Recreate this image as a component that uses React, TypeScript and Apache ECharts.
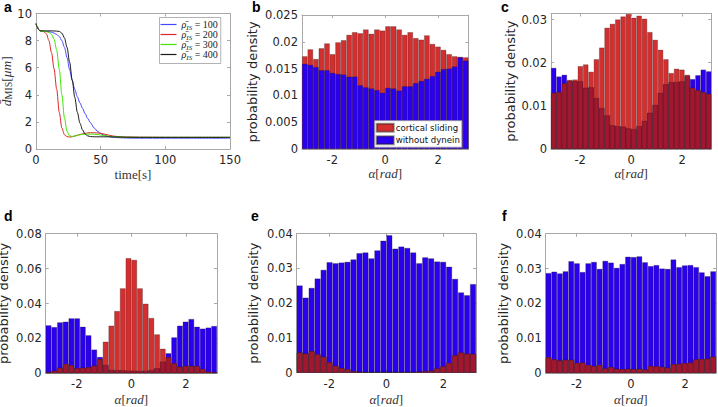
import React, { useEffect, useRef } from 'react';
import * as echarts from 'echarts';

// ---------- panel a: mean distance vs time ----------
const TIME = [0, 1, 2, 3, 4, 6, 8, 10, 12, 14, 16, 18, 20, 22, 24, 26, 28, 30, 32, 34, 36, 38, 40, 42, 45, 48, 52, 56, 60, 65, 70, 80, 100, 120, 150];
const RHO_100 = [9.25, 9.0, 8.82, 8.72, 8.7, 8.68, 8.67, 8.65, 8.62, 8.55, 8.45, 8.3, 8.0, 7.5, 6.75, 5.85, 5.05, 4.4, 3.85, 3.4, 3.0, 2.6, 2.25, 1.95, 1.55, 1.27, 1.05, 0.92, 0.86, 0.83, 0.81, 0.8, 0.8, 0.8, 0.8];
const RHO_200 = [9.25, 9.0, 8.82, 8.72, 8.7, 8.66, 8.5, 8.0, 7.1, 5.9, 4.4, 2.7, 1.55, 1.05, 0.92, 0.88, 0.9, 0.96, 1.02, 1.07, 1.12, 1.16, 1.19, 1.2, 1.2, 1.18, 1.12, 1.03, 0.95, 0.9, 0.88, 0.87, 0.86, 0.86, 0.86];
const RHO_300 = [9.25, 9.0, 8.82, 8.72, 8.7, 8.68, 8.66, 8.6, 8.45, 8.1, 7.3, 5.9, 4.0, 2.3, 1.3, 0.97, 0.93, 0.95, 1.0, 1.05, 1.08, 1.1, 1.1, 1.1, 1.09, 1.06, 1.0, 0.95, 0.91, 0.88, 0.87, 0.86, 0.86, 0.86, 0.86];
const RHO_400 = [9.25, 9.0, 8.82, 8.74, 8.72, 8.72, 8.72, 8.72, 8.72, 8.71, 8.7, 8.68, 8.55, 8.2, 7.5, 6.4, 5.1, 3.8, 2.7, 1.9, 1.4, 1.1, 0.97, 0.92, 0.9, 0.9, 0.9, 0.9, 0.89, 0.88, 0.87, 0.86, 0.86, 0.86, 0.86];
const RHO_LABELS = ['100', '200', '300', '400'];
const TIME_TICKS = [0, 50, 100, 150];
const DIST_TICKS = [0, 2, 4, 6, 8, 10];

// ---------- histograms (30 bins over [-pi, pi]) ----------
const B_SLIDING = [0.0173, 0.0186, 0.0168, 0.0188, 0.0197, 0.0177, 0.0199, 0.0203, 0.0213, 0.0218, 0.0216, 0.0223, 0.0215, 0.0223, 0.0221, 0.0229, 0.0229, 0.0223, 0.0213, 0.0218, 0.0207, 0.0204, 0.0212, 0.0196, 0.0191, 0.0185, 0.0177, 0.0173, 0.0172, 0.0171];
const B_NODYNEIN = [0.0159, 0.0157, 0.0153, 0.0147, 0.0147, 0.0142, 0.014, 0.0139, 0.0135, 0.0135, 0.0119, 0.0115, 0.0113, 0.011, 0.0105, 0.0114, 0.0113, 0.0109, 0.0117, 0.0117, 0.0123, 0.0127, 0.0131, 0.0136, 0.0144, 0.0149, 0.015, 0.0154, 0.0171, 0.0165];
const C_SLIDING = [0.013, 0.0132, 0.0152, 0.016, 0.0161, 0.0192, 0.0196, 0.0179, 0.0208, 0.0235, 0.0281, 0.029, 0.03, 0.0307, 0.0313, 0.0304, 0.0309, 0.0302, 0.0271, 0.0253, 0.023, 0.0208, 0.0176, 0.0186, 0.0184, 0.0172, 0.0142, 0.0136, 0.0132, 0.0128];
const C_NODYNEIN = [0.0188, 0.0168, 0.0172, 0.0158, 0.0157, 0.0157, 0.0142, 0.0143, 0.0118, 0.0095, 0.0078, 0.0055, 0.0053, 0.0052, 0.0048, 0.0046, 0.0053, 0.0065, 0.0084, 0.0102, 0.013, 0.015, 0.0155, 0.0155, 0.0157, 0.0169, 0.0162, 0.0171, 0.0184, 0.018];
const D_SLIDING = [0.0006, 0.0015, 0.0032, 0.0053, 0.0046, 0.0029, 0.0032, 0.0034, 0.0044, 0.0082, 0.0181, 0.0273, 0.0357, 0.0487, 0.066, 0.065, 0.0487, 0.0399, 0.0317, 0.0223, 0.0141, 0.0092, 0.0057, 0.0038, 0.0042, 0.0042, 0.0042, 0.0025, 0.001, 0.0006];
const D_NODYNEIN = [0.0275, 0.0265, 0.0292, 0.0296, 0.0315, 0.0315, 0.0267, 0.0218, 0.0136, 0.0094, 0.0048, 0.002, 0.0018, 0.0018, 0.0015, 0.0015, 0.0014, 0.0015, 0.0018, 0.0029, 0.0067, 0.0115, 0.0206, 0.0273, 0.0296, 0.0311, 0.0267, 0.0256, 0.0262, 0.0271];
const E_SLIDING = [0.0058, 0.0055, 0.0062, 0.0053, 0.0046, 0.003, 0.002, 0.0013, 0.001, 0.0004, 0.0003, 0.0002, 0.0002, 0.0002, 0.0002, 0.0002, 0.0002, 0.0002, 0.0002, 0.0002, 0.0003, 0.0004, 0.0006, 0.0012, 0.0018, 0.0028, 0.005, 0.0058, 0.0055, 0.0054];
const E_NODYNEIN = [0.0251, 0.0216, 0.0244, 0.0271, 0.0296, 0.0318, 0.0315, 0.0317, 0.0319, 0.0326, 0.0344, 0.0346, 0.0329, 0.0352, 0.038, 0.0396, 0.0357, 0.0363, 0.0359, 0.0346, 0.0315, 0.0332, 0.0329, 0.032, 0.0319, 0.0305, 0.027, 0.0231, 0.0223, 0.0255];
const F_SLIDING = [0.0045, 0.0039, 0.0036, 0.0038, 0.0038, 0.0029, 0.003, 0.0023, 0.002, 0.0023, 0.0013, 0.0017, 0.0012, 0.0011, 0.0012, 0.0011, 0.0012, 0.001, 0.002, 0.0019, 0.0018, 0.0015, 0.0025, 0.0026, 0.0028, 0.003, 0.0039, 0.004, 0.0041, 0.0047];
const F_NODYNEIN = [0.0287, 0.0291, 0.0286, 0.0292, 0.0321, 0.0315, 0.029, 0.0315, 0.0319, 0.0299, 0.0322, 0.0317, 0.0302, 0.0313, 0.0334, 0.0333, 0.0335, 0.0318, 0.0307, 0.031, 0.03, 0.0299, 0.0326, 0.0304, 0.0309, 0.031, 0.0304, 0.0289, 0.0278, 0.0292];
const ALPHA_TICKS = [-2, 0, 2];
const B_YTICKS = [0, 0.005, 0.01, 0.015, 0.02, 0.025];
const C_YTICKS = [0, 0.01, 0.02, 0.03];
const D_YTICKS = [0, 0.02, 0.04, 0.06, 0.08];
const EF_YTICKS = [0, 0.01, 0.02, 0.03, 0.04];
const SERIES_NAMES = ['cortical sliding', 'without dynein'];

const BIN_COUNT = 30;
const BIN_CENTERS = Array.from({ length: BIN_COUNT }, (_, i) => -Math.PI + ((i + 0.5) * 2 * Math.PI) / BIN_COUNT);

const RED = '#d32f2f';
const BLUE = '#2b00ee';
const DARK_RED = '#a0172f';
const EDGE = 'rgba(25,25,25,0.45)';
const AXIS_COLOR = '#a8a8a8';
const LABEL_COLOR = '#262626';
const SANS = 'DejaVu Sans';
const SERIF = 'Liberation Serif';
const LINE_COLORS = ['#4646ff', '#e02626', '#3ee600', '#1a1a1a'];

const fmt = (v: number) => String(+(+v).toFixed(4));

const axisLine = { show: true, onZero: false, lineStyle: { color: AXIS_COLOR, width: 1 } };
const tick = (vals: number[]) => ({ show: true, inside: true, length: 3, customValues: vals, lineStyle: { color: AXIS_COLOR, width: 1 } });
const label = (vals: number[], margin: number) => ({
  show: true, customValues: vals, margin, fontFamily: SANS, fontSize: 11.5, color: LABEL_COLOR, formatter: fmt,
});

const alphaName = {
  name: '{i|α}{n|[}{i|rad}{n|]}',
  nameLocation: 'middle',
  nameTextStyle: {
    fontFamily: SERIF, fontSize: 13, color: '#333',
    rich: {
      i: { fontFamily: SERIF, fontStyle: 'italic', fontSize: 13, color: '#333' },
      n: { fontFamily: SERIF, fontSize: 13, color: '#333' },
    },
  },
};

type Hist = {
  grid: { left: number; top: number; width: number; height: number };
  yMax: number;
  yTicks: number[];
  sliding: number[];
  noDynein: number[];
  blueOnTop: boolean;
  yNameGap: number;
  xNameGap: number;
};

const HISTS: Hist[] = [
  { grid: { left: 302, top: 15, width: 166.5, height: 134 }, yMax: 0.025, yTicks: B_YTICKS, sliding: B_SLIDING, noDynein: B_NODYNEIN, blueOnTop: true, yNameGap: 43.5, xNameGap: 18 },
  { grid: { left: 551, top: 13.5, width: 160.3, height: 135.5 }, yMax: 0.0314, yTicks: C_YTICKS, sliding: C_SLIDING, noDynein: C_NODYNEIN, blueOnTop: false, yNameGap: 34, xNameGap: 18 },
  { grid: { left: 45.7, top: 233.7, width: 171.3, height: 139.6 }, yMax: 0.08, yTicks: D_YTICKS, sliding: D_SLIDING, noDynein: D_NODYNEIN, blueOnTop: false, yNameGap: 35.5, xNameGap: 20 },
  { grid: { left: 296.7, top: 233.7, width: 179.3, height: 139 }, yMax: 0.04, yTicks: EF_YTICKS, sliding: E_SLIDING, noDynein: E_NODYNEIN, blueOnTop: false, yNameGap: 36.5, xNameGap: 20 },
  { grid: { left: 545.7, top: 233.7, width: 170.3, height: 139.3 }, yMax: 0.04, yTicks: EF_YTICKS, sliding: F_SLIDING, noDynein: F_NODYNEIN, blueOnTop: false, yNameGap: 35.5, xNameGap: 20 },
];

const LETTERS = [
  { t: 'a', x: 4, y: 6.5 },
  { t: 'b', x: 252, y: 6.5 },
  { t: 'c', x: 501, y: 6.5 },
  { t: 'd', x: 4, y: 215.5 },
  { t: 'e', x: 251, y: 215.5 },
  { t: 'f', x: 502, y: 215.5 },
];

function buildOption() {
  const grids: any[] = [];
  const xAxis: any[] = [];
  const yAxis: any[] = [];
  const series: any[] = [];

  // panel a
  grids.push({ left: 36, top: 13.5, width: 194, height: 135.5, outerBoundsMode: 'none' });
  xAxis.push({
    type: 'value', gridIndex: 0, min: 0, max: 150, position: 'bottom',
    axisLine, axisTick: tick(TIME_TICKS), axisLabel: label(TIME_TICKS, 5), splitLine: { show: false },
    name: '{n|time[s]}', nameLocation: 'middle', nameGap: 19,
    nameTextStyle: { fontFamily: SERIF, fontSize: 13, color: '#333', rich: { n: { fontFamily: SERIF, fontSize: 13, color: '#333' } } },
  });
  xAxis.push({
    type: 'value', gridIndex: 0, min: 0, max: 150, position: 'top',
    axisLine, axisTick: tick(TIME_TICKS), axisLabel: { show: false }, splitLine: { show: false },
  });
  yAxis.push({
    type: 'value', gridIndex: 0, min: 0, max: 10, position: 'left',
    axisLine, axisTick: tick(DIST_TICKS), axisLabel: label(DIST_TICKS, 4), splitLine: { show: false },
    name: '{d|d̄}{s|MIS}{n|[}{i|μm}{n|]}', nameLocation: 'middle', nameGap: 23, nameRotate: 90, nameMoveOverlap: false,
    nameTextStyle: {
      fontFamily: SERIF, fontSize: 13.5, color: '#333',
      rich: {
        d: { fontFamily: SERIF, fontStyle: 'italic', fontSize: 13.5, color: '#333', lineHeight: 12 },
        s: { fontFamily: SERIF, fontSize: 10, color: '#333', verticalAlign: 'bottom', lineHeight: 14 },
        n: { fontFamily: SERIF, fontSize: 13.5, color: '#333', lineHeight: 12 },
        i: { fontFamily: SERIF, fontStyle: 'italic', fontSize: 13.5, color: '#333', lineHeight: 12 },
      },
    },
  });
  yAxis.push({
    type: 'value', gridIndex: 0, min: 0, max: 10, position: 'right',
    axisLine, axisTick: tick(DIST_TICKS), axisLabel: { show: false }, splitLine: { show: false },
  });
  const rhoData = [RHO_100, RHO_200, RHO_300, RHO_400];
  rhoData.forEach((arr, k) => {
    series.push({
      type: 'line', name: 'rho' + RHO_LABELS[k], xAxisIndex: 0, yAxisIndex: 0,
      data: TIME.map((t, i) => [t, arr[i]]), showSymbol: false, smooth: 0.3, smoothMonotone: 'x',
      lineStyle: { color: LINE_COLORS[k], width: 1 }, itemStyle: { color: LINE_COLORS[k] },
      silent: true, z: 2,
    });
  });

  // histogram panels
  HISTS.forEach((h, p) => {
    const gi = p + 1;
    grids.push({ ...h.grid, outerBoundsMode: 'none' });
    xAxis.push({
      type: 'value', gridIndex: gi, min: -Math.PI, max: Math.PI, position: 'bottom',
      axisLine, axisTick: tick(ALPHA_TICKS), axisLabel: label(ALPHA_TICKS, 5), splitLine: { show: false },
      ...alphaName, nameGap: h.xNameGap,
    });
    xAxis.push({
      type: 'value', gridIndex: gi, min: -Math.PI, max: Math.PI, position: 'top',
      axisLine, axisTick: tick(ALPHA_TICKS), axisLabel: { show: false }, splitLine: { show: false },
    });
    yAxis.push({
      type: 'value', gridIndex: gi, min: 0, max: h.yMax, position: 'left',
      axisLine, axisTick: tick(h.yTicks), axisLabel: label(h.yTicks, 4), splitLine: { show: false },
      name: 'probability density', nameLocation: 'middle', nameRotate: 90, nameGap: h.yNameGap, nameMoveOverlap: false,
      nameTextStyle: { fontFamily: SANS, fontSize: 13, color: LABEL_COLOR },
    });
    yAxis.push({
      type: 'value', gridIndex: gi, min: 0, max: h.yMax, position: 'right',
      axisLine, axisTick: tick(h.yTicks), axisLabel: { show: false }, splitLine: { show: false },
    });
    const xi = gi * 2;
    const yi = gi * 2;
    const bar = (name: string, vals: number[], color: string) => ({
      type: 'bar', name, xAxisIndex: xi, yAxisIndex: yi,
      data: BIN_CENTERS.map((c, i) => [c, vals[i]]),
      barWidth: '100%', barGap: '-100%',
      itemStyle: { color, borderColor: EDGE, borderWidth: 0.6 },
      silent: true, emphasis: { disabled: true },
    });
    if (h.blueOnTop) {
      series.push(bar(SERIES_NAMES[0], h.sliding, RED));
      series.push(bar(SERIES_NAMES[1], h.noDynein, BLUE));
    } else {
      series.push(bar('nd' + p, h.noDynein, BLUE));
      series.push(bar('cs' + p, h.sliding, RED));
      series.push(bar('ov' + p, h.sliding.map((v, i) => Math.min(v, h.noDynein[i])), DARK_RED));
    }
  });

  return {
    animation: false,
    backgroundColor: '#ffffff',
    textStyle: { fontFamily: SANS },
    grid: grids,
    xAxis,
    yAxis,
    series,
    legend: [
      {
        left: 159.5, top: 17.5, orient: 'vertical', selectedMode: false,
        data: RHO_LABELS.map((r) => 'rho' + r),
        icon: 'rect', itemWidth: 16, itemHeight: 1.2, itemGap: -2,
        padding: [2, 3, 2, 1], borderColor: '#a0a0a0', borderWidth: 0.8, backgroundColor: '#ffffff',
        formatter: (name: string) => `{r|ρ̄}{s|IS}{n| = ${name.slice(3)}}`,
        textStyle: {
          fontFamily: SERIF, fontSize: 10, color: '#222',
          rich: {
            r: { fontFamily: SERIF, fontStyle: 'italic', fontSize: 10, color: '#222', lineHeight: 10 },
            s: { fontFamily: SERIF, fontStyle: 'italic', fontSize: 7, color: '#222', verticalAlign: 'bottom', lineHeight: 14 },
            n: { fontFamily: SERIF, fontSize: 10, color: '#222', lineHeight: 10 },
          },
        },
      },
      {
        left: 374.7, top: 120.7, orient: 'vertical', selectedMode: false,
        data: SERIES_NAMES,
        icon: 'rect', itemWidth: 17, itemHeight: 8, itemGap: 2.5,
        padding: [2, 2, 2, 1], borderColor: '#a0a0a0', borderWidth: 0.8, backgroundColor: '#ffffff',
        textStyle: { fontFamily: SANS, fontSize: 8.6, color: '#111', padding: [0, 0, 0, -3] },
      },
    ],
    graphic: LETTERS.map((l) => ({
      type: 'text', x: l.x, y: l.y, silent: true,
      style: { text: l.t, fontFamily: 'Liberation Sans', fontWeight: 'bold', fontSize: 14, fill: '#000', verticalAlign: 'middle' },
    })),
  };
}

export default function App() {
  const ref = useRef<HTMLDivElement>(null);
  useEffect(() => {
    if (!ref.current) return;
    const chart = echarts.init(ref.current, null, { renderer: 'svg' });
    chart.setOption(buildOption() as any);
    return () => chart.dispose();
  }, []);
  return (
    <div
      ref={ref}
      style={{ position: 'fixed', left: 0, top: 0, width: 718, height: 407, background: '#fff' }}
    />
  );
}
